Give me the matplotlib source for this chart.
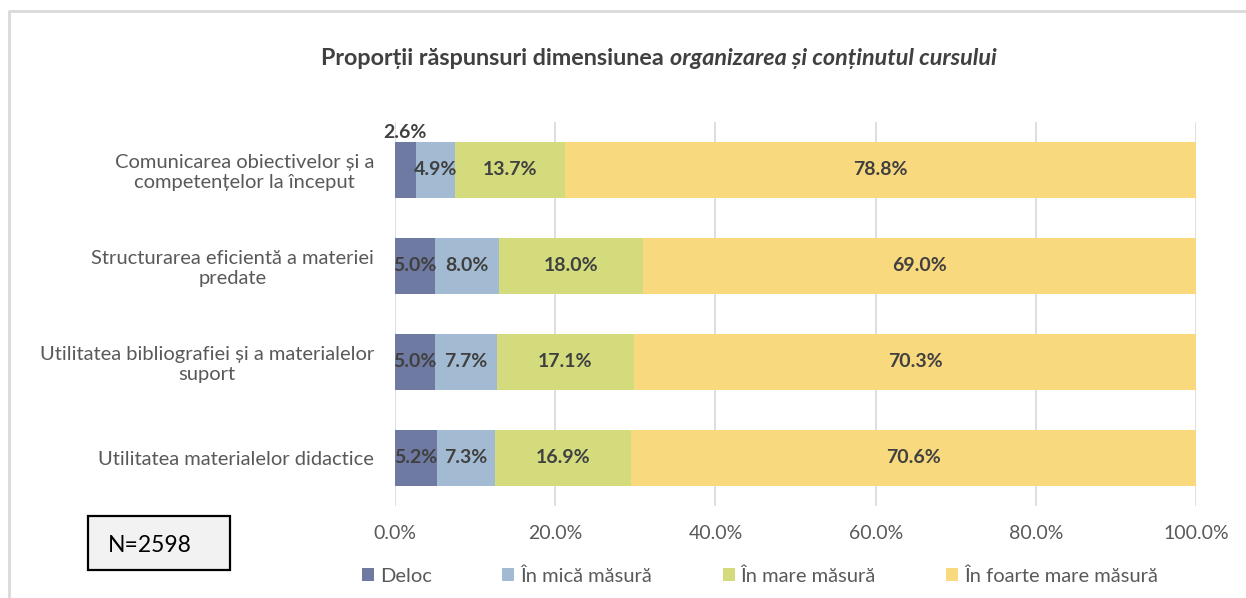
import numpy as np
import matplotlib
matplotlib.use('Agg')
from matplotlib import pyplot as plt
from matplotlib.patches import Rectangle

plt.rcParams['font.family'] = ['Lato', 'DejaVu Sans']

categories = ['Comunicarea obiectivelor și a\ncompetențelor la început',
              'Structurarea eficientă a materiei\npredate',
              'Utilitatea bibliografiei și a materialelor\nsuport',
              'Utilitatea materialelor didactice']
series = ['Deloc', 'În mică măsură', 'În mare măsură', 'În foarte mare măsură']
deloc = [2.6, 5.0, 5.0, 5.2]
mica = [4.9, 8.0, 7.7, 7.3]
mare = [13.7, 18.0, 17.1, 16.9]
foarte = [78.8, 69.0, 70.3, 70.6]
colors = ['#6F7AA2', '#A2BBD2', '#D3DB7D', '#F9D97E']

fig = plt.figure(figsize=(12.46, 5.98), dpi=100)
ax = fig.add_axes([0.317, 0.154, 0.643, 0.642])

y = np.arange(len(categories))
left = np.zeros(len(categories))
for vals, name, col in zip([deloc, mica, mare, foarte], series, colors):
    vals = np.array(vals)
    ax.barh(y, vals, left=left, height=0.58, color=col, label=name, zorder=2)
    for i, v in enumerate(vals):
        cx = left[i] + v / 2
        if v < 3:
            ax.text(cx, y[i] - 0.3, f'{v:.1f}%', ha='center', va='bottom',
                    fontsize=14, fontweight='bold', color='#404040')
        else:
            ax.text(cx, y[i], f'{v:.1f}%', ha='center', va='center',
                    fontsize=14, fontweight='bold', color='#404040')
    left += vals

ax.set_xlim(0, 100)
ax.set_ylim(3.5, -0.5)
ax.set_yticks(y)
ax.set_yticklabels(categories, fontsize=14.5, color='#595959', multialignment='center')
ax.set_xticks(np.arange(0, 101, 20))
ax.set_xticklabels([f'{t:.1f}%' for t in np.arange(0, 101, 20)], fontsize=14, color='#595959')
ax.tick_params(axis='y', length=0, pad=15)
ax.tick_params(axis='x', length=0, pad=14)
ax.grid(axis='x', color='#D9D9D9', linewidth=1.2, zorder=0)
for s in ax.spines.values():
    s.set_visible(False)

# title: bold part + bold italic part
fig.canvas.draw()
r = fig.canvas.get_renderer()
t1 = fig.text(0, 0.903, 'Proporții răspunsuri dimensiunea ', fontsize=16.8,
              fontweight='bold', color='#404040', va='center')
t2 = fig.text(0, 0.903, 'organizarea și conținutul cursului', fontsize=16.8,
              fontweight='bold', style='italic', color='#404040', va='center')
w1 = t1.get_window_extent(r).width
w2 = t2.get_window_extent(r).width
x0 = 659 - (w1 + w2) / 2
t1.set_x(x0 / 1246)
t2.set_x((x0 + w1) / 1246)

# N box
fig.patches.append(Rectangle((88 / 1246, 1 - 570 / 598), 142 / 1246, 54 / 598,
                             transform=fig.transFigure, facecolor='#F2F2F2',
                             edgecolor='black', linewidth=1.6))
fig.text(108 / 1246, 1 - 545 / 598, 'N=2598', fontsize=16.5, color='black', va='center')

# outer frame
fig.add_artist(plt.Line2D([9 / 1246, 9 / 1246, 1], [0, 1 - 11 / 598, 1 - 11 / 598],
                          transform=fig.transFigure, color='#D9D9D9', linewidth=2))

fig.legend(loc='center', bbox_to_anchor=(0.61, 0.037), ncol=4, frameon=False,
           fontsize=14.5, handlelength=0.6, handleheight=0.6, handletextpad=0.3,
           columnspacing=3.5, labelcolor='#595959')

fig.savefig('out.png', dpi=100)
